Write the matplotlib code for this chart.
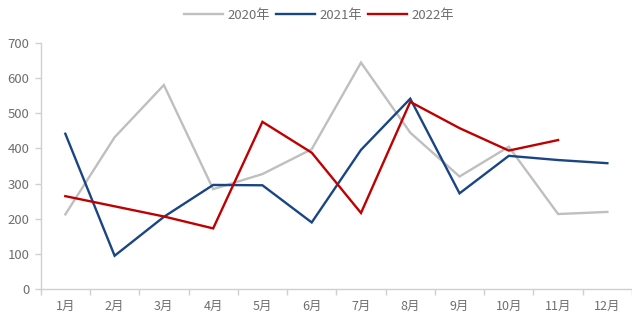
import matplotlib
matplotlib.use("Agg")
import matplotlib.pyplot as plt

plt.rcParams['font.family'] = ['Noto Sans CJK SC', 'DejaVu Sans']

months = ["1月", "2月", "3月", "4月", "5月", "6月", "7月", "8月", "9月", "10月", "11月", "12月"]
series_names = ["2020年", "2021年", "2022年"]
v2020 = [212, 432, 581, 284, 327, 398, 645, 445, 320, 405, 213, 219]
v2021 = [442, 94, 205, 296, 295, 189, 396, 542, 272, 379, 367, 358]
v2022 = [264, 235, 206, 172, 476, 388, 216, 533, 458, 394, 424]
colors = ["#bfbfbf", "#1a4585", "#c00000"]
yticks = [0, 100, 200, 300, 400, 500, 600, 700]

W, H = 632, 322
fig = plt.figure(figsize=(W / 100, H / 100), dpi=100)
left, right = 40.7 / W, 1.0
bottom, top = 1 - 288.7 / H, 1 - 43.3 / H
ax = fig.add_axes([left, bottom, right - left, top - bottom])

x = list(range(len(months)))
for vals, name, c in zip([v2020, v2021, v2022], series_names, colors):
    ax.plot(x[:len(vals)], vals, color=c, lw=1.7, label=name, solid_joinstyle='miter')

ax.set_xlim(-0.5, len(months) - 0.5)
ax.set_ylim(0, 700)
ax.set_yticks(yticks)
ax.set_xticks(x)
ax.set_xticklabels(months)
ax.set_xticks([i - 0.5 for i in range(len(months) + 1)], minor=True)

axis_col = "#d0d0d0"
text_col = "#6e6e6e"
for s in ["top", "right"]:
    ax.spines[s].set_visible(False)
for s in ["left", "bottom"]:
    ax.spines[s].set_color(axis_col)
    ax.spines[s].set_linewidth(1.0)

ax.tick_params(axis='x', which='major', length=0, pad=8, labelsize=9, labelcolor=text_col)
ax.tick_params(axis='x', which='minor', length=4, color=axis_col, width=1.0)
ax.tick_params(axis='y', length=4, color=axis_col, width=1.0, pad=4, labelsize=9.5, labelcolor=text_col)

leg = fig.legend(loc='upper center', bbox_to_anchor=(319 / W, 1.01), ncol=3, frameon=False,
                 fontsize=9.5, handlelength=3.0, handletextpad=0.35, columnspacing=0.4,
                 labelcolor=text_col)

fig.savefig("out.png", dpi=100, facecolor="white")
